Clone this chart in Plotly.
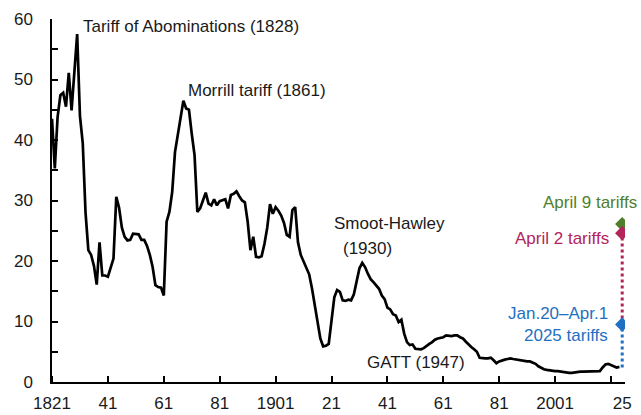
import plotly.graph_objects as go

years = list(range(1821, 1829)) + list(range(1830, 2025))
tariff = [
    43.5, 35.3, 43.8, 47.4, 47.8, 45.5, 51.1, 44.9,          # 1821-1828
    57.5, 44.0, 39.5, 28.0, 21.8, 21.0, 19.2, 16.1, 23.1, 17.6,  # 1830-1839
    17.6, 17.4, 18.9, 20.4, 30.6, 28.8, 25.5, 24.0, 23.4, 23.5,  # 1840-1849
    24.5, 24.5, 24.4, 23.5, 23.5, 22.5, 21.0, 19.0, 16.0, 15.7,  # 1850-1859
    15.6, 14.3, 26.5, 28.1, 31.4, 38.0, 41.0, 43.5, 46.5, 45.2,  # 1860-1869
    45.0, 41.0, 37.5, 28.1, 28.7, 30.0, 31.3, 29.5, 29.2, 30.2,  # 1870-1879
    29.2, 29.9, 30.0, 30.2, 28.7, 30.9, 31.1, 31.5, 30.7, 30.0,  # 1880-1889
    29.7, 26.5, 21.8, 24.0, 20.7, 20.6, 20.8, 22.8, 25.5, 29.4,  # 1890-1899
    27.8, 28.9, 28.3, 27.5, 26.3, 24.3, 24.0, 28.4, 28.9, 23.1,  # 1900-1909
    21.0, 20.0, 18.8, 17.8, 15.5, 12.8, 9.8, 7.2, 5.9, 6.0,      # 1910-1919
    6.3, 10.5, 14.0, 15.2, 14.9, 13.5, 13.4, 13.6, 13.5, 14.5,   # 1920-1929
    16.8, 18.8, 19.7, 19.0, 17.9, 17.0, 16.5, 16.0, 15.4, 14.3,  # 1930-1939
    13.7, 12.3, 12.0, 11.2, 11.0, 9.9, 10.3, 8.0, 6.6, 6.1,      # 1940-1949
    6.2, 5.5, 5.4, 5.4, 5.6, 6.0, 6.3, 6.6, 7.0, 7.2,            # 1950-1959
    7.3, 7.4, 7.7, 7.6, 7.6, 7.7, 7.7, 7.4, 7.2, 6.7,            # 1960-1969
    6.2, 5.8, 5.4, 5.0, 4.0, 3.9, 3.9, 3.9, 4.0, 3.6,            # 1970-1979
    3.1, 3.4, 3.6, 3.7, 3.8, 3.9, 3.8, 3.7, 3.6, 3.5,            # 1980-1989
    3.5, 3.4, 3.4, 3.2, 3.0, 2.6, 2.3, 2.1, 2.0, 1.9,            # 1990-1999
    1.8, 1.8, 1.8, 1.7, 1.6, 1.5, 1.5, 1.5, 1.6, 1.7,            # 2000-2009
    1.7, 1.7, 1.7, 1.7, 1.8, 1.8, 1.8, 1.8, 2.4, 2.9,            # 2010-2019
    3.0, 2.8, 2.5, 2.4, 2.5,                                     # 2020-2024
]

scenario_year = 2025
base_2025 = 2.4
jan_apr_2025 = 9.5
april2 = 24.6
april9 = 26.1

tick_years = [1821, 1841, 1861, 1881, 1901, 1921, 1941, 1961, 1981, 2001, 2025]
tick_text = ["1821", "41", "61", "81", "1901", "21", "41", "61", "81", "2001", "25"]
tick_mark_years = [1821, 1841, 1861, 1881, 1901, 1921, 1941, 1961, 1981, 2001, 2021]

BLUE = "#1f70c1"
MAGENTA = "#b3245b"
GREEN = "#4f7f2b"
FONT = "Liberation Sans, Arial, sans-serif"
TXT = "#1a1a1a"
FS = 17

fig = go.Figure()
fig.add_trace(go.Scatter(x=years, y=tariff, mode="lines",
                         line=dict(color="black", width=2.7), showlegend=False))
fig.add_trace(go.Scatter(x=[scenario_year, scenario_year], y=[jan_apr_2025, april2], mode="lines",
                         line=dict(color=MAGENTA, width=3, dash="dot"), showlegend=False))
fig.add_trace(go.Scatter(x=[scenario_year, scenario_year], y=[base_2025, jan_apr_2025], mode="lines",
                         line=dict(color=BLUE, width=3, dash="dot"), showlegend=False))
fig.add_trace(go.Scatter(x=[scenario_year], y=[april9], mode="markers",
                         marker=dict(symbol="diamond", size=11, color=GREEN), showlegend=False))
fig.add_trace(go.Scatter(x=[scenario_year], y=[april2], mode="markers",
                         marker=dict(symbol="diamond", size=11, color=MAGENTA), showlegend=False))
fig.add_trace(go.Scatter(x=[scenario_year], y=[jan_apr_2025], mode="markers",
                         marker=dict(symbol="diamond", size=11, color=BLUE), showlegend=False))

ann_font = dict(family=FONT, size=FS, color=TXT)
anns = [
    dict(x=1831.2, y=58.8, text="Tariff of Abominations (1828)", xanchor="left"),
    dict(x=1868.8, y=48.2, text="Morrill tariff (1861)", xanchor="left"),
    dict(x=1921.3, y=26.2, text="Smoot-Hawley", xanchor="left"),
    dict(x=1924.3, y=22.0, text="(1930)", xanchor="left"),
    dict(x=1932.9, y=3.3, text="GATT (1947)", xanchor="left"),
]
annotations = []
for a in anns:
    annotations.append(dict(xref="x", yref="y", showarrow=False, yanchor="middle",
                            font=ann_font, **a))
annotations += [
    dict(xref="x", yref="y", x=scenario_year, y=29.6, text="April 9 tariffs", xanchor="right",
         xshift=17, yanchor="middle", showarrow=False, font=dict(family=FONT, size=FS, color=GREEN)),
    dict(xref="x", yref="y", x=scenario_year, y=23.7, text="April 2 tariffs", xanchor="right",
         xshift=-11, yanchor="middle", showarrow=False, font=dict(family=FONT, size=FS, color=MAGENTA)),
    dict(xref="x", yref="y", x=scenario_year, y=11.3, text="Jan.20–Apr.1", xanchor="right",
         xshift=-12.5, yanchor="middle", showarrow=False, font=dict(family=FONT, size=FS, color=BLUE)),
    dict(xref="x", yref="y", x=scenario_year, y=7.7, text="2025 tariffs", xanchor="right",
         xshift=-12.5, yanchor="middle", showarrow=False, font=dict(family=FONT, size=FS, color=BLUE)),
]

fig.update_layout(
    width=641, height=415,
    margin=dict(l=52, r=16, t=19, b=33, autoexpand=False),
    paper_bgcolor="white", plot_bgcolor="white",
    font=dict(family=FONT, size=FS, color=TXT),
    annotations=annotations,
)
fig.update_xaxes(
    range=[1821, 2026], showgrid=False, zeroline=False, automargin=False,
    showline=True, linecolor="black", linewidth=1.5,
    tickmode="array", tickvals=tick_years, ticktext=tick_text, ticks="",
    ticklabelstandoff=5,
    tickfont=dict(family=FONT, size=FS, color=TXT),
    minor=dict(tickmode="array", tickvals=tick_mark_years, ticks="inside", ticklen=6,
               tickcolor="black", tickwidth=1.5, showgrid=False),
)
fig.update_yaxes(
    range=[0, 60], showgrid=False, zeroline=False, automargin=False,
    showline=True, linecolor="black", linewidth=1.5,
    tickmode="linear", tick0=0, dtick=10, ticks="inside", ticklen=6,
    tickcolor="black", tickwidth=1.5, ticklabelstandoff=14,
    tickfont=dict(family=FONT, size=FS, color=TXT),
    minor=dict(dtick=5, ticks="inside", ticklen=6, tickcolor="black", tickwidth=1.5, showgrid=False),
)

fig.write_html("out.html", config={"displayModeBar": False},
               post_script="document.body.style.margin='0';document.body.style.overflow='hidden';")
